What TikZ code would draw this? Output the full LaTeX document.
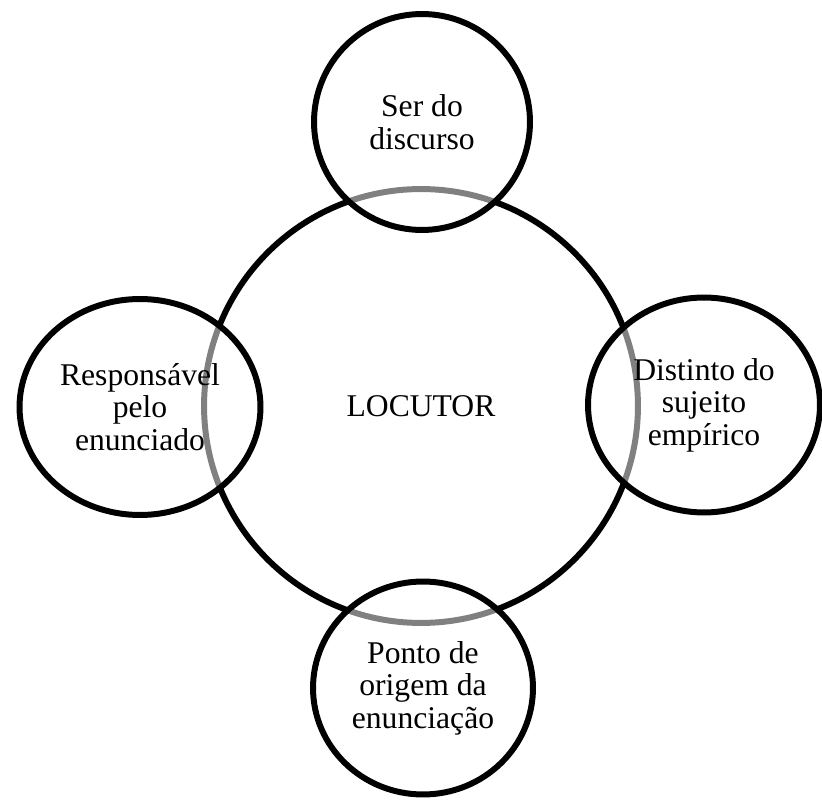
\documentclass[tikz,border=0pt]{standalone}
\usepackage{fontspec}
\setmainfont{Liberation Serif}
\usetikzlibrary{shapes.geometric}

\begin{document}
\begin{tikzpicture}[
    x = 0.02cm,
    y = -0.02cm,
    every node/.style = {font=\fontsize{18}{18.5}\selectfont},
    core/.style = {
        circle,
        draw,
        line width=3.4pt,
        minimum size=8.68cm
    },
    part/.style = {
        ellipse,
        draw,
        line width=3.4pt,
        fill=white,
        fill opacity=0.5,
        text opacity=1,
        align=center,
        inner sep=0pt
    }
]
\useasboundingbox (0,0) rectangle (822,800);

\node[core] (locutor) at (421,406) {LOCUTOR};

\node[part, minimum width=4.32cm, minimum height=4.32cm] (ser) at (422,122) {Ser do\\discurso};
\node[part, minimum width=4.82cm, minimum height=4.32cm] (responsavel) at (140,407) {Responsável\\pelo\\enunciado};
\node[part, minimum width=4.64cm, minimum height=4.30cm] (distinto) at (704,405) {Distinto do\\sujeito\\empírico};
\node[part, minimum width=4.40cm, minimum height=4.26cm] (ponto) at (423,688) {Ponto de\\origem da\\enunciação};

\end{tikzpicture}
\end{document}
